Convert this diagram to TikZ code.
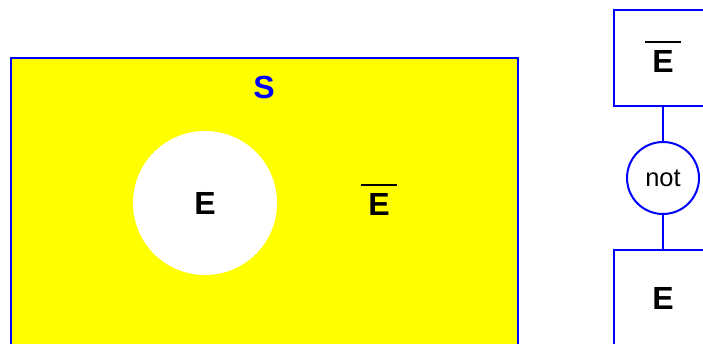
\documentclass[tikz,border=0pt]{standalone}
\usepackage{fontspec}
\setmainfont{Liberation Sans}
\definecolor{pureyellow}{RGB}{255,255,0}
\definecolor{pureblue}{RGB}{0,0,255}
\newcommand\barletter[1]{\vbox{\offinterlineskip\hbox to 36pt{\leaders\hrule height 2pt\hfill}\vskip 6.5pt\hbox to 36pt{\hfil #1\hfil}}}
\tikzset{
  big/.style={font=\fontsize{32}{32}\selectfont\bfseries, inner sep=0pt},
  boxnode/.style={draw=pureblue, line width=2pt, minimum width=98pt, minimum height=96pt, inner sep=0pt},
  opnode/.style={circle, draw=pureblue, line width=2pt, fill=white, minimum size=72pt, inner sep=0pt, font=\fontsize{25.5}{25.5}\selectfont},
  link/.style={draw=pureblue, line width=2pt}
}
\begin{document}
\begin{tikzpicture}[x=1pt,y=-1pt]
\clip (0,0) rectangle (703,343);
% Venn diagram
\draw[fill=pureyellow, draw=pureblue, line width=1.5pt] (11,58) rectangle (518,360);
\node[circle, fill=white, minimum size=144pt, inner sep=0pt, font=\fontsize{32}{32}\selectfont\bfseries] (E) at (205,203) {E};
\node[big, text=pureblue] (S) at (264,87) {S};
\node[big, anchor=base] (Ecomp) at (379,215) {\barletter{E}};
% tree
\node[boxnode] (top) at (663,58) {};
\node[big, anchor=base] (topE) at (663,72) {\barletter{E}};
\node[opnode] (not) at (663,178) {not};
\node[boxnode] (bot) at (663,298) {};
\node[big, anchor=base] (botE) at (663,309) {E};
\draw[link] (top.south) -- (not.north);
\draw[link] (not.south) -- (bot.north);
\end{tikzpicture}
\end{document}
